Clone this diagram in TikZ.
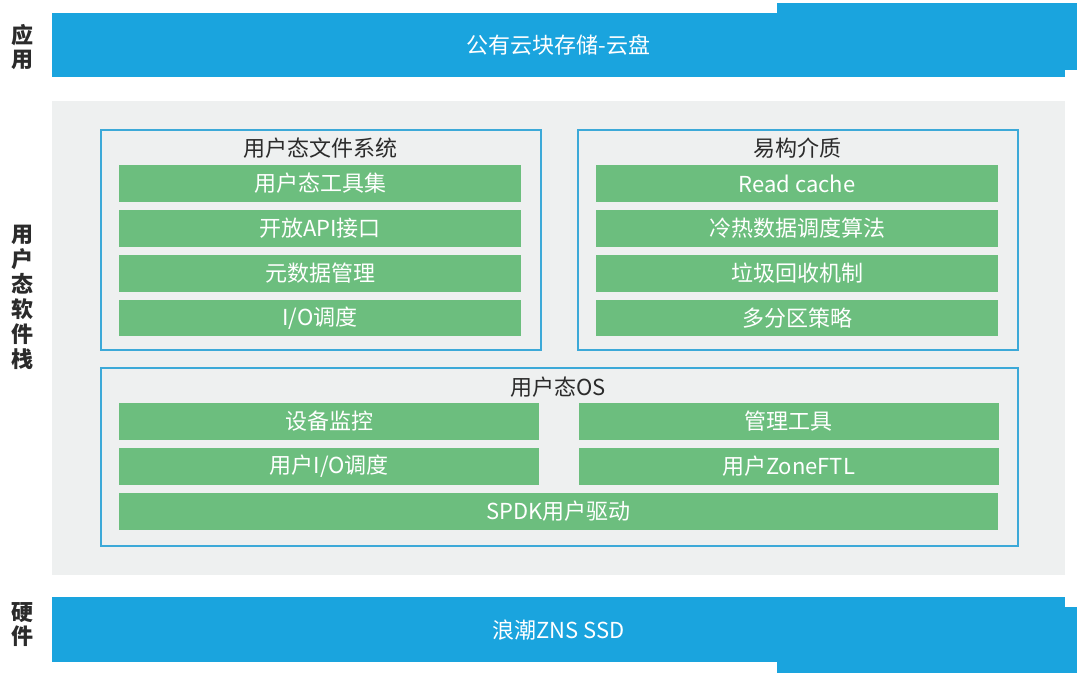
\documentclass[tikz,border=0pt]{standalone}
\usepackage{fontspec}
\setmainfont{Noto Sans CJK SC}
\usetikzlibrary{positioning}
\definecolor{barblue}{HTML}{1AA4DE}
\definecolor{panelgray}{HTML}{EEF0F0}
\definecolor{frameblue}{HTML}{3CA9D8}
\definecolor{rowgreen}{HTML}{6CBE7E}
\definecolor{labeldark}{HTML}{2B2B2B}

\begin{document}
\begin{tikzpicture}[
            x=1pt, y=-1pt,
            node distance=8pt,
            bar/.style={fill=barblue, text=white, minimum width=1013pt, minimum height=64pt, inner sep=0pt, font=\fontsize{22}{26}\selectfont},
            side/.style={text=labeldark, align=center, inner sep=0pt, font=\bfseries\fontsize{22}{24}\selectfont},
            frame/.style={draw=frameblue, line width=1.5pt, fill=panelgray, anchor=north west, inner sep=0pt},
            title/.style={text=labeldark, inner sep=0pt, font=\fontsize{22}{26}\selectfont},
            row/.style={fill=rowgreen, text=white, minimum width=402pt, minimum height=36.5pt, inner sep=0pt, font=\fontsize{22}{26}\selectfont},
            halfrow/.style={row, minimum width=420pt},
            fullrow/.style={row, minimum width=879pt}
        ]
            \useasboundingbox (0,0) rectangle (1080,677);
            % 应用
            \fill[barblue] (777,3) rectangle (1077,70);
\node[bar, anchor=north west] (app) at (52,13) {公有云块存储-云盘};
            \node[side] (lapp) at (23,47) {应\\用};
            % 用户态软件栈
            \node[fill=panelgray, minimum width=1013pt, minimum height=474pt, inner sep=0pt, anchor=north west] (stack) at (52,101) {};
            \node[side, font=\bfseries\fontsize{22}{25}\selectfont] (lstack) at (23,297) {用\\户\\态\\软\\件\\栈};
            \node[frame, minimum width=440pt, minimum height=220pt] (fs) at (100,129) {};
\node[frame, minimum width=440pt, minimum height=220pt] (media) at (577,129) {};
            \node[frame, minimum width=917pt, minimum height=178pt] (os) at (100,367) {};
            \node[title] (fstitle) at (320,148) {用户态文件系统};
            \node[row, anchor=north] (tools) at (320,165) {用户态工具集};
            \node[row, below=of tools] (api) {开放API接口};
\node[row, below=of api] (meta) {元数据管理};
            \node[row, below=of meta] (iosched) {I/O调度};
            \node[title] (mediatitle) at (797,148) {易构介质};
            \node[row, anchor=north] (cache) at (797,165) {Read cache};
            \node[row, below=of cache] (hotcold) {冷热数据调度算法};
            \node[row, below=of hotcold] (gc) {垃圾回收机制};
\node[row, below=of gc] (zones) {多分区策略};
            \node[title] (ostitle) at (558,387) {用户态OS};
            \node[halfrow, anchor=north west] (monitor) at (119,403) {设备监控};
            \node[halfrow, right=39pt of monitor] (mgmt) {管理工具};
            \node[halfrow, below=of monitor] (userio) {用户I/O调度};
            \node[halfrow, below=of mgmt] (zoneftl) {用户ZoneFTL};
            \node[fullrow, below=8pt of userio.south west, anchor=north west] (spdk) {SPDK用户驱动};
            % 硬件
            \fill[barblue] (777,607) rectangle (1077,673);
            \node[bar, minimum height=65pt, anchor=north west] (ssd) at (52,597) {浪潮ZNS SSD};
            \node[side] (lhw) at (23,625) {硬\\件};
        \end{tikzpicture}
\end{document}
